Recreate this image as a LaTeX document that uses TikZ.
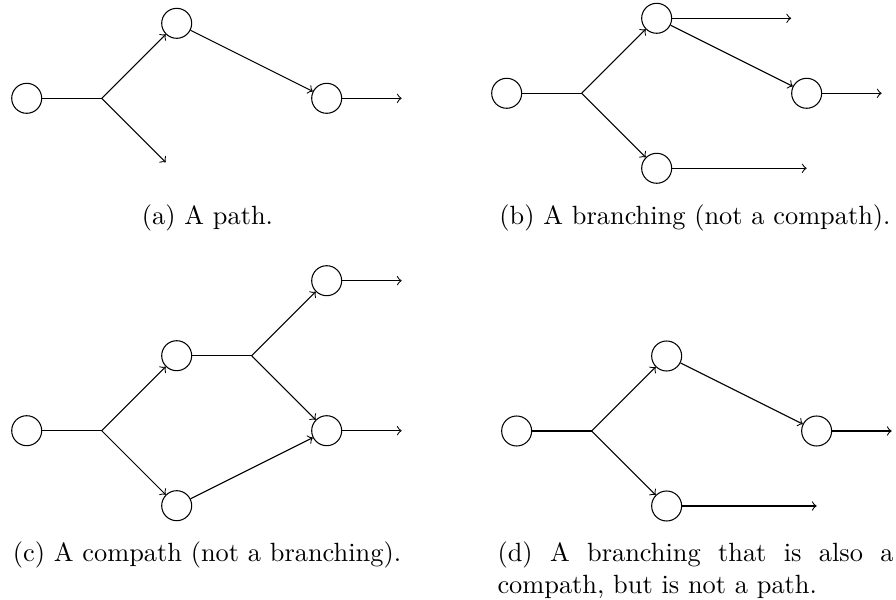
\documentclass[tikz,border=0pt]{standalone}
\begin{document}
\begin{tikzpicture}[
  vertex/.style={circle, draw, minimum size=0.4cm, inner sep=0pt},
  ghost/.style={circle, minimum size=0.4cm, inner sep=0pt},
  flow/.style={->},
  caption/.style={inner sep=0pt, anchor=base}
]
\useasboundingbox (0,0) rectangle (11.947,8);

% (a) a path
\begin{scope}[shift={(0.356,6.689)}]
  \node[vertex] (a0) at (0,0) {};
  \coordinate (ab) at (1,0);
  \node[vertex] (a1) at (2,1) {};
  \node[ghost]  (a2) at (2,-1) {};
  \node[vertex] (a3) at (4,0) {};
  \coordinate (aend) at (5,0);
  \draw (a0) -- (ab);
  \draw[flow] (ab) -- (a1);
  \draw[flow] (ab) -- (a2);
  \draw[flow] (a1) -- (a3);
  \draw[flow] (a3) -- (aend);
\end{scope}
\node[caption] (capa) at (2.767,5.0) {(a) A path.};

% (b) a branching
\begin{scope}[shift={(6.756,6.756)}]
  \node[vertex] (b0) at (0,0) {};
  \coordinate (bb) at (1,0);
  \node[vertex] (b1) at (2,1) {};
  \node[vertex] (b2) at (2,-1) {};
  \node[ghost]  (b3) at (4,1) {};
  \node[vertex] (b4) at (4,0) {};
  \coordinate (bend) at (5,0);
  \coordinate (blow) at (4,-1);
  \draw (b0) -- (bb);
  \draw[flow] (bb) -- (b1);
  \draw[flow] (bb) -- (b2);
  \draw[flow] (b1) -- (b3);
  \draw[flow] (b1) -- (b4);
  \draw[flow] (b4) -- (bend);
  \draw[flow] (b2) -- (blow);
\end{scope}
\node[caption] (capb) at (9.267,5.0) {(b) A branching (not a compath).};

% (c) a compath
\begin{scope}[shift={(0.356,2.257)}]
  \node[vertex] (c0) at (0,0) {};
  \coordinate (cb) at (1,0);
  \node[vertex] (c1) at (2,1) {};
  \node[vertex] (c2) at (2,-1) {};
  \coordinate (cb2) at (3,1);
  \node[vertex] (c3) at (4,2) {};
  \node[vertex] (c4) at (4,0) {};
  \coordinate (cend3) at (5,2);
  \coordinate (cend4) at (5,0);
  \draw (c0) -- (cb);
  \draw[flow] (cb) -- (c1);
  \draw[flow] (cb) -- (c2);
  \draw (c1) -- (cb2);
  \draw[flow] (cb2) -- (c3);
  \draw[flow] (cb2) -- (c4);
  \draw[flow] (c2) -- (c4);
  \draw[flow] (c3) -- (cend3);
  \draw[flow] (c4) -- (cend4);
\end{scope}
\node[caption] (capc) at (2.76,0.507) {(c) A compath (not a branching).};

% (d) a branching that is also a compath
\begin{scope}[shift={(6.889,2.253)}]
  \node[vertex] (d0) at (0,0) {};
  \coordinate (db) at (1,0);
  \node[vertex] (d1) at (2,1) {};
  \node[vertex] (d2) at (2,-1) {};
  \node[vertex] (d3) at (4,0) {};
  \coordinate (dend) at (5,0);
  \coordinate (dlow) at (4,-1);
  \draw (d0) -- (db);
  \draw[flow] (db) -- (d1);
  \draw[flow] (db) -- (d2);
  \draw[flow] (d1) -- (d3);
  \draw[flow] (d3) -- (dend);
  \draw[flow] (d2) -- (dlow);
\end{scope}
\node[inner sep=0pt, anchor=base west, text width=5.28cm, align=justify] (capd) at (6.627,0.507)
  {\hbadness=10000 (d) A branching that is also a\linebreak compath, but is not a path.};
\end{tikzpicture}
\end{document}
